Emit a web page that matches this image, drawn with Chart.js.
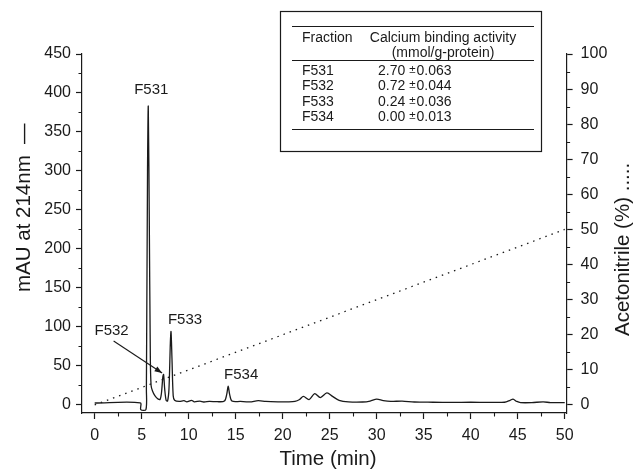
<!DOCTYPE html>
<html>
<head>
<meta charset="utf-8">
<script src="https://cdn.jsdelivr.net/npm/chart.js@4.4.0/dist/chart.umd.min.js"></script>
<style>
  html, body { margin: 0; padding: 0; background: #fff; }
  canvas { display: block; }
</style>
</head>
<body>
<canvas id="c-chart-hplc" width="644" height="471"></canvas>
<script>
// RP-HPLC trace at 214 nm (time in min, absorbance in mAU)
const times = [
  0, 4.85, 4.9, 5.45, 5.5, 5.62, 5.7, 5.8, 5.92, 6.0, 6.15, 6.4, 6.7, 6.95,
  7.1, 7.25, 7.33, 7.45, 7.6, 7.75, 7.9, 8.05, 8.12, 8.22, 8.35, 8.5,
  9.0, 9.5, 9.8, 10.3, 10.6, 11.2, 11.6, 12.2, 13.0, 13.8, 14.05, 14.2, 14.35,
  14.6, 15.5, 16.5, 17.4, 18.2, 19.5, 20.5, 21.3, 21.8, 22.2, 22.8, 23.4,
  24.0, 24.7, 25.3, 26.0, 27.0, 28.5, 29.3, 30.0, 30.7, 31.5, 32.7, 34.0,
  36, 38, 40, 42, 43.6, 44.2, 44.5, 44.9, 45.3, 46.5, 47.7, 48.5, 50
]
const absorbance = [
  2.5, 2.8, -6, -6, 20, 300, 383, 250, 60, 25, 18, 12, 8, 7,
  15, 36, 39, 20, 6, 5, 20, 80, 94, 60, 12, 6,
  4.5, 5.5, 4, 6, 4, 5, 3.8, 4.5, 4.2, 5, 14, 24, 14,
  5, 4.5, 4, 5.5, 4.5, 4, 4, 4.5, 7, 11, 7, 14.5,
  9.5, 15.5, 11, 6, 4, 3.8, 5, 7.5, 5.5, 4.5, 5, 3.8,
  3.5, 3.3, 3.5, 3.3, 3.5, 6, 7.5, 4.5, 3, 3, 4, 3, 3
]

// acetonitrile gradient (%)
const gradientTimes = [0, 50]
const acetonitrile = [0, 50]

const xTicks = [0, 5, 10, 15, 20, 25, 30, 35, 40, 45, 50]
const yTicks = [0, 50, 100, 150, 200, 250, 300, 350, 400, 450]
const y2Ticks = [0, 10, 20, 30, 40, 50, 60, 70, 80, 90, 100]

// labelled fractions and their calcium binding activity
const fractions = ['F531', 'F532', 'F533', 'F534']
const peakTimes = [5.7, 7.33, 8.12, 14.2]
const activity = ['2.70', '0.72', '0.24', '0.00']
const activityErr = ['0.063', '0.044', '0.036', '0.013']

const ink = '#1a1a1a'
const font = '"Liberation Sans", Arial, sans-serif'

const toPoints = (xs, ys) => xs.map((t, i) => ({ x: t, y: ys[i] }))
const setTicks = list => scale => { scale.ticks = list.map(v => ({ value: v })) }

const axisCommon = {
  border: { display: true, color: ink, width: 1.2 },
  grid: { drawOnChartArea: false, drawTicks: true, tickLength: 6, tickColor: ink, tickWidth: 1.2 },
  ticks: { color: ink, font: { family: font, size: 16 }, padding: 5 }
}

// minor ticks, axis titles, peak labels and the activity table
const decor = {
  id: 'decor',
  afterDraw(chart) {
    const { ctx, chartArea: area } = chart
    const { x, y, y2 } = chart.scales
    ctx.save()
    ctx.strokeStyle = ink
    ctx.fillStyle = ink
    ctx.lineWidth = 1.1

    ctx.beginPath()
    for (let v = 2.5; v < 50; v += 5) {
      const px = Math.round(x.getPixelForValue(v)) + 0.5
      ctx.moveTo(px, area.bottom); ctx.lineTo(px, area.bottom + 3.5)
    }
    for (let v = 25; v < 450; v += 50) {
      const py = Math.round(y.getPixelForValue(v)) + 0.5
      ctx.moveTo(area.left, py); ctx.lineTo(area.left - 3.5, py)
    }
    for (let v = 5; v < 100; v += 10) {
      const py = Math.round(y2.getPixelForValue(v)) + 0.5
      ctx.moveTo(area.right, py); ctx.lineTo(area.right + 3.5, py)
    }
    ctx.stroke()

    // axis titles
    ctx.font = '20.5px ' + font
    ctx.textBaseline = 'middle'
    ctx.textAlign = 'center'
    ctx.fillText('Time (min)', 328, 459)

    ctx.save()
    ctx.translate(24, 292)
    ctx.rotate(-Math.PI / 2)
    ctx.textAlign = 'left'
    ctx.fillText('mAU at 214nm  \u2014', 0, 0)
    ctx.restore()

    ctx.save()
    ctx.translate(623, 336)
    ctx.rotate(-Math.PI / 2)
    ctx.textAlign = 'left'
    ctx.fillText('Acetonitrile (%) .....', 0, 0)
    ctx.restore()

    // peak labels
    const labelOffsets = [[3, -16], [-52, -44], [14, -12], [13, -11]]
    ctx.font = '15px ' + font
    fractions.forEach((name, i) => {
      const t = peakTimes[i]
      const h = absorbance[times.indexOf(t)]
      const px = x.getPixelForValue(t)
      const py = y.getPixelForValue(h)
      const lx = px + labelOffsets[i][0]
      const ly = py + labelOffsets[i][1]
      ctx.fillText(name, lx, ly)
      if (name === 'F532') {
        // arrow from the label down to the small peak
        const sx = lx + 2, sy = ly + 10.5
        const ex = px - 1.5, ey = py - 1.5
        const a = Math.atan2(ey - sy, ex - sx)
        ctx.beginPath()
        ctx.moveTo(sx, sy); ctx.lineTo(ex, ey)
        ctx.stroke()
        ctx.beginPath()
        ctx.moveTo(ex, ey)
        ctx.lineTo(ex - 8 * Math.cos(a - 0.35), ey - 8 * Math.sin(a - 0.35))
        ctx.lineTo(ex - 8 * Math.cos(a + 0.35), ey - 8 * Math.sin(a + 0.35))
        ctx.closePath()
        ctx.fill()
      }
    })

    // activity table
    ctx.lineWidth = 1.2
    ctx.strokeRect(280.5, 11.5, 261, 140)
    ctx.beginPath()
    ;[26, 60, 129].forEach(ry => { ctx.moveTo(292, ry + 0.5); ctx.lineTo(534, ry + 0.5) })
    ctx.stroke()

    ctx.font = '14px ' + font
    ctx.textBaseline = 'alphabetic'
    ctx.textAlign = 'left'
    ctx.fillText('Fraction', 302, 42)
    ctx.textAlign = 'center'
    ctx.fillText('Calcium binding activity', 443, 42)
    ctx.fillText('(mmol/g-protein)', 443, 57)

    fractions.forEach((name, i) => {
      const by = 74.5 + i * 15.5
      ctx.textAlign = 'left'
      ctx.font = '14px ' + font
      ctx.fillText(name, 302, by)
      let vx = 378
      const head = activity[i] + ' '
      ctx.fillText(head, vx, by)
      vx += ctx.measureText(head).width
      ctx.font = '11.5px ' + font
      ctx.fillText('\u00b1', vx, by - 2)
      vx += ctx.measureText('\u00b1').width + 1
      ctx.font = '14px ' + font
      ctx.fillText(activityErr[i], vx, by)
    })
    ctx.restore()
  }
}

const ctx = document.getElementById('c-chart-hplc').getContext('2d')
new Chart(ctx, {
  type: 'scatter',
  data: {
    datasets: [
      {
        label: 'mAU at 214nm',
        data: toPoints(times, absorbance),
        showLine: true,
        borderColor: ink,
        borderWidth: 1.3,
        pointRadius: 0,
        tension: 0.3,
        yAxisID: 'y'
      },
      {
        label: 'Acetonitrile (%)',
        data: toPoints(gradientTimes, acetonitrile),
        showLine: true,
        borderColor: ink,
        borderWidth: 1.3,
        borderDash: [1.5, 5],
        pointRadius: 0,
        yAxisID: 'y2'
      }
    ]
  },
  options: {
    responsive: false,
    animation: false,
    layout: { padding: { top: 54 } },
    plugins: { legend: { display: false }, tooltip: { enabled: false } },
    scales: {
      x: {
        ...axisCommon,
        type: 'linear',
        min: -1.35,
        max: 50.2,
        afterBuildTicks: setTicks(xTicks),
        ticks: { ...axisCommon.ticks, padding: 7 },
        afterFit: s => { s.height = 58 }
      },
      y: {
        ...axisCommon,
        position: 'left',
        min: -10.3,
        max: 450,
        afterBuildTicks: setTicks(yTicks),
        afterFit: s => { s.width = 82 }
      },
      y2: {
        ...axisCommon,
        position: 'right',
        min: -2.29,
        max: 100,
        afterBuildTicks: setTicks(y2Ticks),
        ticks: { ...axisCommon.ticks, padding: 8 },
        afterFit: s => { s.width = 77.4 }
      }
    }
  },
  plugins: [decor]
})
</script>
</body>
</html>
